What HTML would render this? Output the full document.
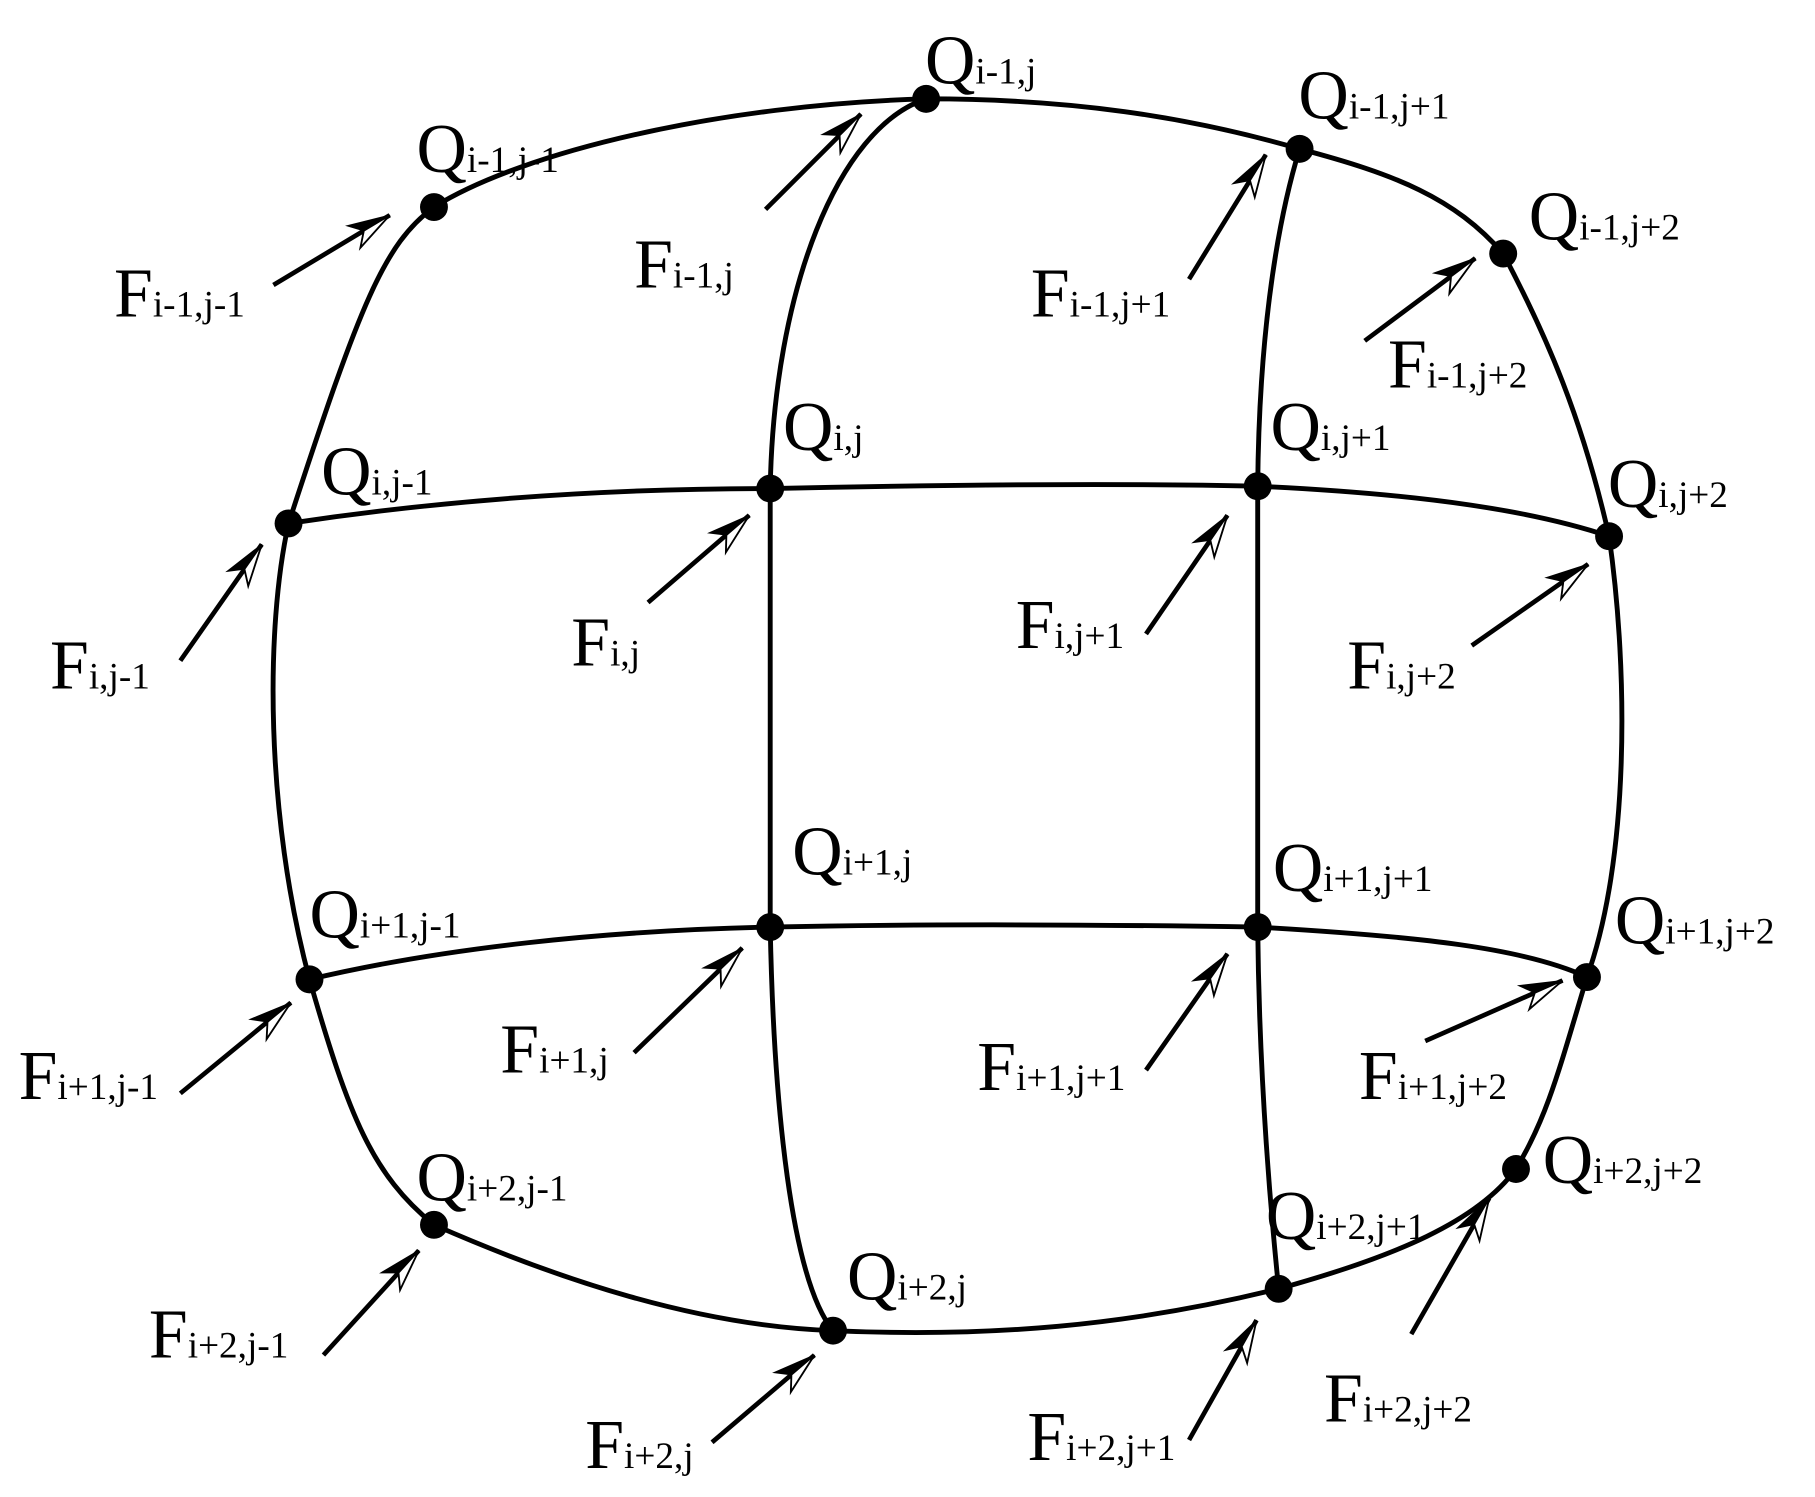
<!DOCTYPE html>
<html><head><meta charset="utf-8"><style>html,body{margin:0;padding:0;background:#fff}svg{display:block}</style></head><body>
<svg width="1815" height="1497" viewBox="0 0 1560 1287" preserveAspectRatio="none" xmlns="http://www.w3.org/2000/svg">
<defs>
<marker id="ah" markerUnits="userSpaceOnUse" markerWidth="50" markerHeight="30" refX="0" refY="0" viewBox="-40 -15 50 30" orient="auto" overflow="visible">
<polygon points="0,0 -36,-11 -26,0" fill="#000" stroke="#000" stroke-width="1"/>
<polygon points="0,0 -36,11 -26,0" fill="#fff" stroke="#000" stroke-width="1.6"/>
</marker>
</defs>
<g fill="none" stroke="#000" stroke-width="4.2" stroke-linecap="round">
<path d="M373,178 C450,130 620,90 796,85 C920,85 1020,100 1117,128 C1200,150 1250,170 1292,218"/>
<path d="M373,178 C330,210 310,260 248,450 C228,540 228,700 266,842 C300,960 320,1010 373,1053"/>
<path d="M373,1053 C480,1100 600,1140 716,1144 C850,1150 970,1140 1099,1108 C1200,1080 1270,1050 1303,1005"/>
<path d="M1292,218 C1330,290 1360,360 1383,461 C1400,580 1400,740 1364,840 C1340,920 1330,960 1303,1005"/>
<path d="M796,85 C720,110 665,250 662,420 L662,797 C665,950 680,1100 716,1144"/>
<path d="M1117,128 C1095,200 1082,300 1081,418 L1081,797 C1082,900 1088,1000 1099,1108"/>
<path d="M248,450 C380,430 520,420 662,420 C800,417 950,415 1081,418 C1230,425 1320,440 1383,461"/>
<path d="M266,842 C380,815 520,800 662,797 C800,794 950,795 1081,797 C1220,805 1310,815 1364,840"/>
</g>
<g fill="#000">
<circle cx="373" cy="178" r="12"/><circle cx="796" cy="85" r="12"/><circle cx="1117" cy="128" r="12"/><circle cx="1292" cy="218" r="12"/>
<circle cx="248" cy="450" r="12"/><circle cx="662" cy="420" r="12"/><circle cx="1081" cy="418" r="12"/><circle cx="1383" cy="461" r="12"/>
<circle cx="266" cy="842" r="12"/><circle cx="662" cy="797" r="12"/><circle cx="1081" cy="797" r="12"/><circle cx="1364" cy="840" r="12"/>
<circle cx="373" cy="1053" r="12"/><circle cx="716" cy="1144" r="12"/><circle cx="1099" cy="1108" r="12"/><circle cx="1303" cy="1005" r="12"/>
</g>
<g stroke="#000" stroke-width="4" marker-end="url(#ah)">
<line x1="235" y1="245" x2="335" y2="185"/>
<line x1="658" y1="180" x2="740" y2="98"/>
<line x1="1022" y1="240" x2="1088" y2="133"/>
<line x1="1173" y1="293" x2="1268" y2="222"/>
<line x1="155" y1="568" x2="225" y2="468"/>
<line x1="557" y1="518" x2="644" y2="443"/>
<line x1="985" y1="545" x2="1055" y2="443"/>
<line x1="1265" y1="555" x2="1365" y2="485"/>
<line x1="155" y1="940" x2="250" y2="862"/>
<line x1="545" y1="905" x2="638" y2="815"/>
<line x1="985" y1="920" x2="1055" y2="820"/>
<line x1="1225" y1="895" x2="1343" y2="843"/>
<line x1="278" y1="1165" x2="360" y2="1075"/>
<line x1="612" y1="1240" x2="700" y2="1165"/>
<line x1="1022" y1="1238" x2="1080" y2="1135"/>
<line x1="1213" y1="1147" x2="1280" y2="1030"/>
</g>
<g font-family="'Liberation Serif', serif" font-size="60" fill="#000">
<text x="358" y="148">Q<tspan font-size="32">i-1,j-1</tspan></text>
<text x="795" y="72">Q<tspan font-size="32">i-1,j</tspan></text>
<text x="1116" y="102">Q<tspan font-size="32">i-1,j+1</tspan></text>
<text x="1314" y="206">Q<tspan font-size="32">i-1,j+2</tspan></text>
<text x="276" y="425">Q<tspan font-size="32">i,j-1</tspan></text>
<text x="673" y="387">Q<tspan font-size="32">i,j</tspan></text>
<text x="1092" y="387">Q<tspan font-size="32">i,j+1</tspan></text>
<text x="1382" y="436">Q<tspan font-size="32">i,j+2</tspan></text>
<text x="266" y="806">Q<tspan font-size="32">i+1,j-1</tspan></text>
<text x="681" y="752">Q<tspan font-size="32">i+1,j</tspan></text>
<text x="1094" y="766">Q<tspan font-size="32">i+1,j+1</tspan></text>
<text x="1388" y="811">Q<tspan font-size="32">i+1,j+2</tspan></text>
<text x="358" y="1032">Q<tspan font-size="32">i+2,j-1</tspan></text>
<text x="728" y="1117">Q<tspan font-size="32">i+2,j</tspan></text>
<text x="1088" y="1065">Q<tspan font-size="32">i+2,j+1</tspan></text>
<text x="1326" y="1017">Q<tspan font-size="32">i+2,j+2</tspan></text>

<text x="98" y="272">F<tspan font-size="32">i-1,j-1</tspan></text>
<text x="545" y="247">F<tspan font-size="32">i-1,j</tspan></text>
<text x="886" y="272">F<tspan font-size="32">i-1,j+1</tspan></text>
<text x="1193" y="333">F<tspan font-size="32">i-1,j+2</tspan></text>
<text x="43" y="592">F<tspan font-size="32">i,j-1</tspan></text>
<text x="491" y="572">F<tspan font-size="32">i,j</tspan></text>
<text x="873" y="557">F<tspan font-size="32">i,j+1</tspan></text>
<text x="1158" y="592">F<tspan font-size="32">i,j+2</tspan></text>
<text x="16" y="945">F<tspan font-size="32">i+1,j-1</tspan></text>
<text x="430" y="922">F<tspan font-size="32">i+1,j</tspan></text>
<text x="840" y="937">F<tspan font-size="32">i+1,j+1</tspan></text>
<text x="1168" y="945">F<tspan font-size="32">i+1,j+2</tspan></text>
<text x="128" y="1167">F<tspan font-size="32">i+2,j-1</tspan></text>
<text x="503" y="1262">F<tspan font-size="32">i+2,j</tspan></text>
<text x="883" y="1255">F<tspan font-size="32">i+2,j+1</tspan></text>
<text x="1138" y="1222">F<tspan font-size="32">i+2,j+2</tspan></text>
</g>
</svg>
</body></html>
